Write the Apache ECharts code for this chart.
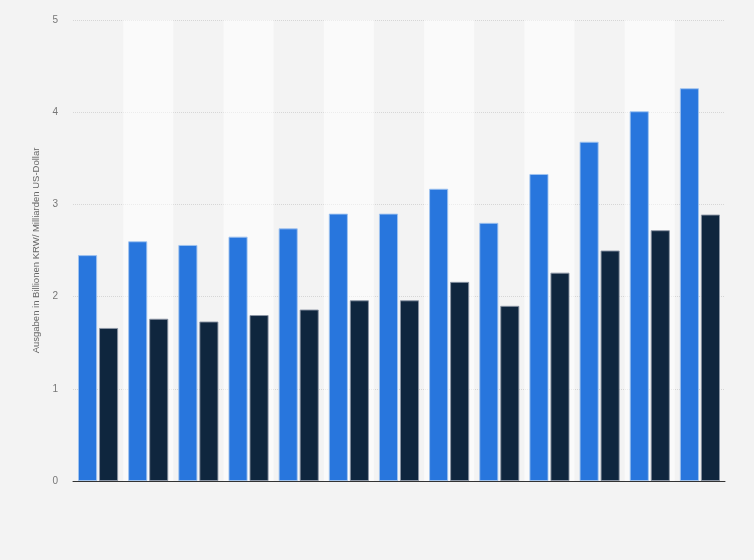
<!DOCTYPE html>
<html>
<head>
<meta charset="utf-8">
<script src="https://cdn.jsdelivr.net/npm/echarts@6/dist/echarts.min.js"></script>
<style>
html,body{margin:0;padding:0;background:#f3f3f3;}
#chart{width:754px;height:560px;}
</style>
</head>
<body>
<div id="chart"></div>
<script>
const categories = ['2008','2009','2010','2011','2012','2013','2014','2015','2016','2017','2018','2019','2020'];
const seriesKRW = [2.45, 2.60, 2.56, 2.65, 2.74, 2.90, 2.90, 3.17, 2.80, 3.33, 3.68, 4.01, 4.26];
const seriesUSD = [1.66, 1.76, 1.73, 1.80, 1.86, 1.96, 1.96, 2.16, 1.90, 2.26, 2.50, 2.72, 2.89];
const yTicks = [0, 1, 2, 3, 4, 5];
const yAxisTitle = 'Ausgaben in Billionen KRW/ Milliarden US-Dollar';

const chart = echarts.init(document.getElementById('chart'));
chart.setOption({
  backgroundColor: '#f3f3f3',
  animation: false,
  grid: { left: 73, right: 29, top: 20, bottom: 79, containLabel: false },
  xAxis: {
    type: 'category',
    data: categories,
    axisLine: { show: true, lineStyle: { color: '#333', width: 1 } },
    axisTick: { show: false },
    axisLabel: { show: false },
    splitLine: { show: false },
    splitArea: { show: true, areaStyle: { color: ['rgba(0,0,0,0)', 'rgba(255,255,255,0.55)'] } }
  },
  yAxis: {
    type: 'value',
    min: yTicks[0],
    max: yTicks[yTicks.length - 1],
    interval: 1,
    name: yAxisTitle,
    nameLocation: 'middle',
    nameGap: 24,
    nameRotate: 90,
    nameTextStyle: { color: '#666', fontSize: 9.5, fontFamily: 'Liberation Sans, Arial, sans-serif' },
    axisLine: { show: false },
    axisTick: { show: false },
    axisLabel: { color: '#777', fontSize: 10, margin: 15, fontFamily: 'Liberation Sans, Arial, sans-serif' },
    splitLine: { show: true, lineStyle: { color: '#d6d6d6', type: [1, 1], width: 1 } }
  },
  series: [
    {
      name: 'Billionen KRW',
      type: 'bar',
      data: seriesKRW,
      barGap: '10%',
      barCategoryGap: '20%',
      itemStyle: { color: '#2876dd', borderColor: 'rgba(160,195,240,0.9)', borderWidth: 1 }
    },
    {
      name: 'Milliarden US-Dollar',
      type: 'bar',
      data: seriesUSD,
      barGap: '10%',
      barCategoryGap: '20%',
      itemStyle: { color: '#0f263e', borderColor: 'rgba(140,150,165,0.9)', borderWidth: 1 }
    }
  ]
});
</script>
</body>
</html>
